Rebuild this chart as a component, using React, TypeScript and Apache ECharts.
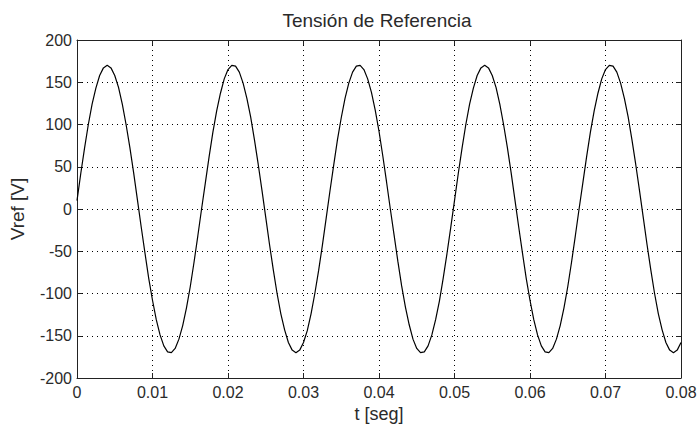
import React, { useEffect, useRef } from "react";
import * as echarts from "echarts";

// Sampling interval of the reference signal (s)
const sampleStep = 0.0005;

// Vref [V], one value every 0.5 ms from t = 0 to t = 0.08 s
const vrefValues: number[] = [
  10, 42, 72, 100, 124, 143, 158, 167, 170, 167,
  158, 144, 124, 100, 73, 43, 11, -21, -52, -82,
  -108, -131, -149, -162, -169, -170, -165, -154, -138, -117,
  -92, -63, -32, 0, 31, 62, 91, 116, 137, 154,
  165, 170, 169, 162, 149, 131, 109, 82, 53, 22,
  -10, -42, -72, -100, -124, -143, -158, -167, -170, -167,
  -158, -144, -124, -100, -73, -43, -11, 21, 52, 82,
  108, 131, 149, 162, 169, 170, 165, 154, 138, 117,
  92, 63, 32, 0, -31, -62, -91, -116, -137, -154,
  -165, -170, -169, -162, -149, -131, -109, -82, -53, -22,
  10, 42, 72, 100, 124, 143, 158, 167, 170, 167,
  158, 144, 124, 100, 73, 43, 11, -21, -52, -82,
  -108, -131, -149, -162, -169, -170, -165, -154, -138, -117,
  -92, -63, -32, 0, 31, 62, 91, 116, 137, 154,
  165, 170, 169, 162, 149, 131, 109, 82, 53, 22,
  -10, -42, -72, -100, -124, -143, -158, -167, -170, -167,
  -158,
];

const xTicks = [0, 0.01, 0.02, 0.03, 0.04, 0.05, 0.06, 0.07, 0.08];
const yTicks = [-200, -150, -100, -50, 0, 50, 100, 150, 200];

const titleText = "Tensión de Referencia";
const xName = "t [seg]";
const yName = "Vref [V]";

export default function App() {
  const ref = useRef<HTMLDivElement>(null);

  useEffect(() => {
    if (!ref.current) return;
    const chart = echarts.init(ref.current, undefined, { renderer: "svg" });
    const font = "'Liberation Sans', Arial, Helvetica, sans-serif";
    const axisColor = "#222";
    const textColor = "#2a2a2a";
    const gridLine = { show: true, lineStyle: { color: "#000", type: [1, 4] as any, width: 1 } };
    const data = vrefValues.map((v, i) => [i * sampleStep, v]);
    const xMin = xTicks[0];
    const xMax = xTicks[xTicks.length - 1];
    const xInt = xTicks[1] - xTicks[0];
    const yMin = yTicks[0];
    const yMax = yTicks[yTicks.length - 1];
    const yInt = yTicks[1] - yTicks[0];

    chart.setOption({
      animation: false,
      backgroundColor: "#fff",
      graphic: [
        {
          type: "text",
          x: 377,
          y: 20,
          style: {
            text: titleText,
            fontFamily: font,
            fontSize: 19,
            fill: textColor,
            textAlign: "center",
            textVerticalAlign: "middle",
          },
        },
      ],
      grid: {
        left: 77,
        top: 40,
        right: 18,
        bottom: 50,
        containLabel: false,
        outerBoundsMode: "none",
      },
      xAxis: [
        {
          type: "value",
          min: xMin,
          max: xMax,
          interval: xInt,
          name: xName,
          nameLocation: "middle",
          nameGap: 24,
          nameTextStyle: { fontFamily: font, fontSize: 18, color: textColor },
          axisLine: { show: true, onZero: false, lineStyle: { color: axisColor, width: 1 } },
          axisTick: { show: true, inside: true, length: 5, lineStyle: { color: axisColor } },
          axisLabel: {
            margin: 6,
            fontFamily: font,
            fontSize: 16,
            color: textColor,
            formatter: (v: number) => String(Number(v.toFixed(2))),
          },
          splitLine: gridLine,
        },
        {
          type: "value",
          position: "top",
          min: xMin,
          max: xMax,
          interval: xInt,
          axisLine: { show: true, onZero: false, lineStyle: { color: axisColor, width: 1 } },
          axisTick: { show: true, inside: true, length: 5, lineStyle: { color: axisColor } },
          axisLabel: { show: false },
          splitLine: { show: false },
        },
      ],
      yAxis: [
        {
          type: "value",
          min: yMin,
          max: yMax,
          interval: yInt,
          name: yName,
          nameLocation: "middle",
          nameGap: 50,
          nameRotate: 90,
          nameTextStyle: { fontFamily: font, fontSize: 19, color: textColor },
          axisLine: { show: true, onZero: false, lineStyle: { color: axisColor, width: 1 } },
          axisTick: { show: true, inside: true, length: 5, lineStyle: { color: axisColor } },
          axisLabel: { margin: 5, fontFamily: font, fontSize: 16, color: textColor },
          splitLine: gridLine,
        },
        {
          type: "value",
          position: "right",
          min: yMin,
          max: yMax,
          interval: yInt,
          axisLine: { show: true, onZero: false, lineStyle: { color: axisColor, width: 1 } },
          axisTick: { show: true, inside: true, length: 5, lineStyle: { color: axisColor } },
          axisLabel: { show: false },
          splitLine: { show: false },
        },
      ],
      series: [
        {
          type: "line",
          xAxisIndex: 0,
          yAxisIndex: 0,
          data,
          showSymbol: false,
          symbol: "none",
          smooth: false,
          lineStyle: { color: "#000", width: 1.2 },
          z: 5,
        },
      ],
    });

    return () => {
      chart.dispose();
    };
  }, []);

  return (
    <div
      ref={ref}
      style={{ position: "fixed", left: 0, top: 0, width: 699, height: 428, background: "#fff" }}
    />
  );
}
